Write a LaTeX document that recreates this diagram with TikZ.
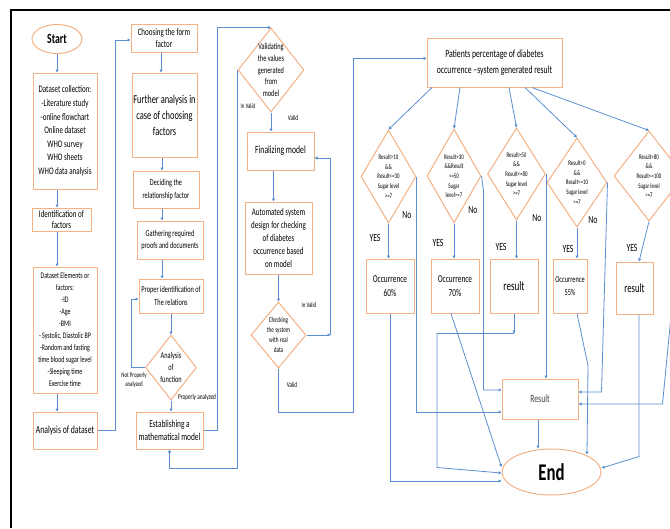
\documentclass[tikz,border=0pt]{standalone}
\usepackage{fontspec}
\setmainfont{Carlito}[FakeStretch=0.7]
\usepackage{tikz}
\usetikzlibrary{shapes.geometric, arrows.meta}
\definecolor{boxorange}{RGB}{244,177,131}
\definecolor{flowblue}{RGB}{91,142,208}
\newcommand{\fsz}[2]{\fontsize{#1}{#2}\selectfont}

\begin{document}
\begin{tikzpicture}[x=1pt, y=-1pt,
    procbox/.style={rectangle, draw=boxorange, line width=1pt, fill=white, inner sep=0pt, align=center},
    decision/.style={diamond, draw=boxorange, line width=1pt, fill=white, inner sep=-6pt, shape aspect=0.6, align=center, font=\fsz{7}{9.7}},
    terminal/.style={ellipse, draw=boxorange, line width=1pt, fill=white, inner sep=0pt},
    flowline/.style={draw=flowblue, line width=0.8pt, -{Triangle[length=3pt,width=3pt]}},
    plainline/.style={draw=flowblue, line width=0.8pt},
    edgelbl/.style={inner sep=0pt, align=center}]

  \useasboundingbox (0,0) rectangle (670,528);
  \draw[line width=2.2pt] (11,528) -- (11,10) -- (670,10);

  \node[terminal, minimum width=50pt, minimum height=29pt, font=\fsz{14}{16}\bfseries] (start) at (57,39) {Start};
  \node[procbox, minimum width=64pt, minimum height=116pt, font=\fsz{10}{13.6}] (collect) at (65,131)
    {Dataset collection:\\-Literature study\\-online flowchart\\Online dataset\\WHO survey\\WHO sheets\\WHO data analysis};
  \node[procbox, minimum width=59pt, minimum height=23pt, font=\fsz{10}{11.5}] (identify) at (61.5,219.5) {Identification of\\factors};
  \node[procbox, minimum width=64pt, minimum height=126pt, font=\fsz{8.5}{12}] (elements) at (65,330)
    {Dataset Elements or\\factors:\\-ID\\-Age\\-BMI\\- Systolic, Diastolic BP\\-Random and fasting\\time blood sugar level\\-Sleeping time\\Exercise time};
  \node[procbox, minimum width=64pt, minimum height=37pt, font=\fsz{11}{13}] (analysis) at (65,430.5) {Analysis of dataset};

  \node[procbox, minimum width=66pt, minimum height=28pt, font=\fsz{10}{11.7}] (choose) at (164,38) {Choosing the form\\factor};
  \node[procbox, minimum width=65pt, minimum height=84pt, font=\fsz{12}{16}] (further) at (164.5,115) {Further analysis in\\case of choosing\\factors};
  \node[procbox, minimum width=66pt, minimum height=37pt, font=\fsz{9}{12.3}] (decide) at (166,189.5) {Deciding the\\relationship factor};
  \node[procbox, minimum width=66pt, minimum height=38pt, font=\fsz{9}{12.3}] (gather) at (170,240) {Gathering required\\proofs and documents};
  \node[procbox, minimum width=64pt, minimum height=34pt, font=\fsz{9}{12.3}] (proper) at (171,296) {Proper identification of\\The relations};
  \node[decision, minimum width=51pt, minimum height=65pt, font=\fsz{9}{11.7}] (anfunc) at (171,367.5) {Analysis\\of\\function};
  \node[procbox, minimum width=67pt, minimum height=37pt, font=\fsz{10.5}{13.3}] (establish) at (169.5,430.5) {Establishing a\\mathematical model};
  \node[edgelbl, font=\fsz{7}{9}] (lblnotprop) at (134,380) {Not Properly\\analyzed};
  \node[edgelbl, font=\fsz{7.5}{9}] (lblprop) at (197,397) {Properly analyzed};

  \node[decision, minimum width=66pt, minimum height=84pt, font=\fsz{9}{11.9}] (validate) at (271,70) {Validating\\the values\\generated\\from\\model};
  \node[procbox, minimum width=67pt, minimum height=38pt, font=\fsz{11}{13}] (final) at (280.5,151) {Finalizing model};
  \node[procbox, minimum width=67pt, minimum height=72pt, font=\fsz{10}{13.2}] (autosys) at (278.5,238)
    {Automated system\\design for checking\\of diabetes\\occurrence based\\on model};
  \node[decision, minimum width=55pt, minimum height=66pt, font=\fsz{7.5}{10}] (check) at (278.5,335) {Checking\\the system\\with real\\data};
  \node[edgelbl, font=\fsz{7}{9}] (lblinval1) at (248,106) {In Valid};
  \node[edgelbl, font=\fsz{7.5}{9}] (lblval1) at (293,118) {Valid};
  \node[edgelbl, font=\fsz{7}{9}] (lblinval2) at (309,305) {In Valid};
  \node[edgelbl, font=\fsz{7.5}{9}] (lblval2) at (292,385) {Valid};

  \node[procbox, minimum width=135pt, minimum height=49pt, font=\fsz{11}{15.7}] (patients) at (494.5,62.5)
    {Patients percentage of diabetes\\occurrence –system generated result};
  \node[decision, minimum width=55pt, minimum height=93pt] (dec1) at (388.5,176.5) {Result>10\\\&\&\\Result<=30\\Sugar level\\>=7};
  \node[decision, minimum width=54pt, minimum height=94pt] (dec2) at (454,176) {Result>30\\\&\&Result\\<=50\\Sugar\\level>=7};
  \node[decision, minimum width=58pt, minimum height=92pt] (dec3) at (516.5,174) {Result>50\\\&\&\\Result<=80\\Sugar level\\>=7};
  \node[decision, minimum width=60pt, minimum height=89pt] (dec4) at (577,182.5) {Result>0\\\&\&\\Result<=10\\Sugar level\\>=7};
  \node[decision, minimum width=70pt, minimum height=90pt] (dec5) at (649,176) {Result>80\\\&\&\\Result<=100\\Sugar level\\>=7};

  \node[procbox, minimum width=48pt, minimum height=54pt, font=\fsz{10.5}{14.3}] (res1) at (390,286) {Occurrence\\60\%};
  \node[procbox, minimum width=48pt, minimum height=54pt, font=\fsz{10.5}{14.3}] (res2) at (455,286) {Occurrence\\70\%};
  \node[procbox, minimum width=48pt, minimum height=54pt, font=\fsz{13}{15}] (res3) at (514,286) {result};
  \node[procbox, minimum width=34pt, minimum height=54pt, font=\fsz{9}{13}] (res4) at (570,286) {Occurrence\\55\%};
  \node[procbox, minimum width=37pt, minimum height=52pt, font=\fsz{12.5}{15}] (res5) at (634.5,288) {result};

  \node[procbox, minimum width=76pt, minimum height=40pt, font=\fsz{11}{13}, text=black!75] (result) at (540,399) {Result};
  \node[terminal, minimum width=99pt, minimum height=46pt, font=\fsz{24}{26}\bfseries] (finish) at (551.5,472) {End};

  \foreach \name/\x/\y in {yes1/375/238, yes2/438/243, yes3/501/247, yes4/568/249, yes5/632/248}
    \node[edgelbl, font=\fsz{11}{12}] (lbl\name) at (\x,\y) {YES};
  \foreach \name/\x/\y in {no1/407/215, no2/473/210, no3/537/218, no4/593/220}
    \node[edgelbl, font=\fsz{11}{12}] (lbl\name) at (\x,\y) {No};

  \draw[flowline] (start.south) -- (start.south |- collect.north);
  \draw[flowline] (collect.south -| start) -- (identify.north -| start);
  \draw[flowline] (identify.south -| start) -- (elements.north -| start);
  \draw[flowline] (elements.south -| start) -- (analysis.north -| start);
  \draw[flowline] (analysis.east) -- ++(18,0) |- ([yshift=-2pt]choose.west);

  \draw[flowline] ([xshift=-3pt]choose.south) -- ([xshift=-3pt]choose.south |- further.north);
  \draw[flowline] ([xshift=-2.5pt]further.south) -- ([xshift=-2.5pt]further.south |- decide.north);
  \draw[flowline] ([xshift=-4pt]decide.south) -- ([xshift=-4pt]decide.south |- gather.north);
  \draw[flowline] ([xshift=-8pt]gather.south) -- ([xshift=-8pt]gather.south |- proper.north);
  \draw[flowline] (proper.south) -- (anfunc.north);
  \draw[flowline] (anfunc.south) -- (anfunc.south |- establish.north);
  \draw[flowline] (anfunc.west) -- ++(-14,0) |- ([yshift=-3pt]proper.west);
  \draw[flowline] (establish.east) -- ++(14,0) |- (validate.north);

  \draw[flowline] (validate.south) -- (validate.south |- final.north);
  \draw[flowline] (validate.west) -- ++(0,398) -| (establish.south);
  \draw[flowline] ([xshift=-7pt]final.south) -- ([xshift=-7pt]final.south |- autosys.north);
  \draw[flowline] (autosys.south) -- (check.north);
  \draw[flowline] (check.east) -- ++(24,0) coordinate (chkturn);
  \draw[flowline] (chkturn) |- ([yshift=-7pt]final.east);
  \draw[flowline] (check.south) -- ++(0,44) -- ++(75,0) |- ([yshift=4pt]patients.west);

  \draw[flowline] ([xshift=-62.5pt]patients.south) -- (dec1.north);
  \draw[flowline] ([xshift=-34.5pt]patients.south) -- (dec2.north);
  \draw[flowline] ([xshift=14.5pt]patients.south) -- (dec3.north);
  \draw[flowline] ([xshift=30.5pt]patients.south) -- (dec4.north);
  \draw[flowline] ([xshift=37.5pt]patients.south) -- (dec5.north);

  \draw[flowline] (dec1.south) -- (dec1.south |- res1.north);
  \draw[flowline] (dec2.south) -- (dec2.south |- res2.north);
  \draw[flowline] (dec3.south) -- (dec3.south |- res3.north);
  \draw[flowline] (dec4.south) -- (dec4.south |- res4.north);
  \draw[flowline] (dec5.south) -- ([xshift=4.5pt]res5.north);

  \draw[flowline] (dec1.east) |- ([yshift=-13pt]result.west);
  \draw[flowline] (dec2.east) -- ++(2,15) |- ([yshift=9pt]result.west);
  \draw[flowline] (dec3.east) -- (dec3.east |- result.north);
  \draw[flowline] (dec4.east) -- ([xshift=23pt,yshift=7pt]result.east) -- ([yshift=7pt]result.east);
  \draw[flowline] (dec5.east) -- ([xshift=84pt,yshift=-5pt]result.east) -- ([yshift=-5pt]result.east);

  \draw[flowline] ([xshift=-2pt]result.south) -- ([xshift=-2pt]result.south |- finish.north);
  \draw[flowline] (res1.south) |- ([yshift=-9pt]finish.west);
  \draw[flowline] ([xshift=-4pt]res2.south) -- ([yshift=5pt]finish.west);
  \draw[flowline] (res3.south) -- ++(0,20) coordinate (r3turn);
  \draw[flowline] (r3turn) -- ++(-77,0) -- ++(0,134) -- ([yshift=-1pt]finish.west);
  \draw[flowline] ([xshift=7pt]res4.south) -- ++(11,52) -- ++(-1,89);
  \draw[flowline] ([xshift=4.5pt]res5.south) -- ++(0,142) -- ([yshift=4pt]finish.east);
\end{tikzpicture}
\end{document}
